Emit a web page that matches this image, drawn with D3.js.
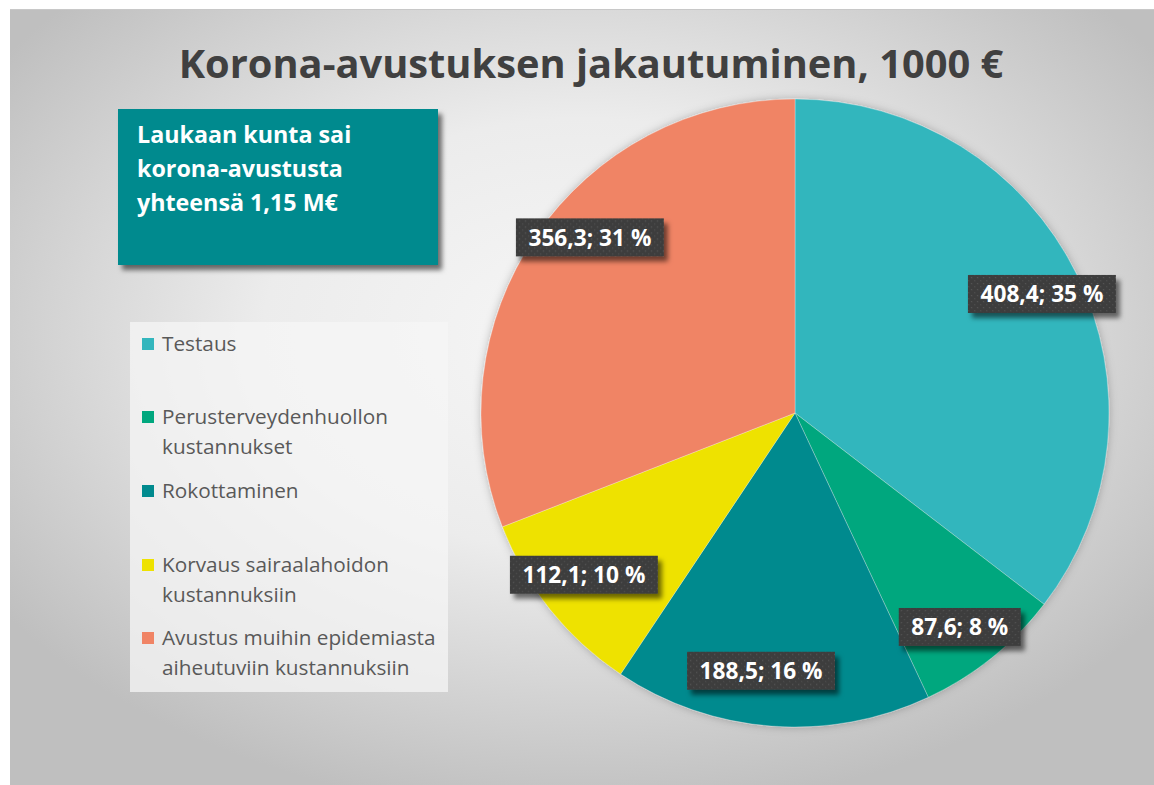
<!DOCTYPE html>
<html><head><meta charset="utf-8">
<script src="https://cdn.jsdelivr.net/npm/d3@7"></script>
<style>html,body{margin:0;padding:0;background:#fff;overflow:hidden}</style>
</head><body>
<svg id="c" width="1154" height="785"></svg>
<script>
const categories = ["Testaus", "Perusterveydenhuollon kustannukset", "Rokottaminen", "Korvaus sairaalahoidon kustannuksiin", "Avustus muihin epidemiasta aiheutuviin kustannuksiin"];
const legendLines = [["Testaus"], ["Perusterveydenhuollon", "kustannukset"], ["Rokottaminen"], ["Korvaus sairaalahoidon", "kustannuksiin"], ["Avustus muihin epidemiasta", "aiheutuviin kustannuksiin"]];
const values = [408.4, 87.6, 188.5, 112.1, 356.3];
const percents = [35, 8, 16, 10, 31];
const colors = ["#33B6BD", "#00A77E", "#008A8E", "#EEE200", "#F08465"];
const title = "Korona-avustuksen jakautuminen, 1000 €";
const noteLines = ["Laukaan kunta sai", "korona-avustusta", "yhteensä 1,15 M€"];

// label placement tweaks (layout only): angle shift in degrees, radius factor
const labelShiftDeg = [0.5, 1.2, 3.2, 1.3, 6.2];
const labelRadiusF = [0.873, 0.86, 0.828, 0.847, 0.86];

const FONT = "'Open Sans', Lato, sans-serif";
const svg = d3.select("#c");
const defs = svg.append("defs");

const rg = defs.append("radialGradient").attr("id", "bg").attr("cx", "50%").attr("cy", "42%").attr("r", "62%");
rg.append("stop").attr("offset", "0%").attr("stop-color", "#f6f6f6");
rg.append("stop").attr("offset", "45%").attr("stop-color", "#ececec");
rg.append("stop").attr("offset", "100%").attr("stop-color", "#bfbfbf");

const sh = defs.append("filter").attr("id", "sh").attr("x", "-20%").attr("y", "-20%").attr("width", "150%").attr("height", "160%");
sh.append("feDropShadow").attr("dx", 4).attr("dy", 5).attr("stdDeviation", 2.5).attr("flood-color", "#000").attr("flood-opacity", 0.55);
const psh = defs.append("filter").attr("id", "psh").attr("x", "-10%").attr("y", "-10%").attr("width", "120%").attr("height", "120%");
psh.append("feDropShadow").attr("dx", 0).attr("dy", 0).attr("stdDeviation", 4).attr("flood-color", "#000").attr("flood-opacity", 0.25);

const pat = defs.append("pattern").attr("id", "dots").attr("width", 6).attr("height", 6).attr("patternUnits", "userSpaceOnUse");
pat.append("rect").attr("width", 6).attr("height", 6).attr("fill", "#3d3d3d");
pat.append("rect").attr("x", 1).attr("y", 1).attr("width", 1.3).attr("height", 1.3).attr("fill", "#555");
pat.append("rect").attr("x", 4).attr("y", 4).attr("width", 1.3).attr("height", 1.3).attr("fill", "#4d4d4d");

svg.append("rect").attr("x", 10).attr("y", 9).attr("width", 1144).attr("height", 776).attr("fill", "url(#bg)");
svg.append("line").attr("x1", 10).attr("x2", 1154).attr("y1", 9.5).attr("y2", 9.5).attr("stroke", "#c8c8c8");

// font size that makes `str` measure `target` px wide
function fitSize(str, target, weight) {
  const tmp = svg.append("text").attr("font-family", FONT).attr("font-weight", weight).attr("font-size", 20).text(str);
  const w = tmp.node().getComputedTextLength();
  tmp.remove();
  return 20 * target / w;
}

// title
svg.append("text").attr("x", 591).attr("y", 78).attr("text-anchor", "middle")
  .attr("font-family", FONT).attr("font-weight", "bold").attr("font-size", fitSize(title, 825, "bold"))
  .attr("fill", "#404040").text(title);

// pie
const cx = 795, cy = 413, R = 314;
const pie = d3.pie().sort(null).value(d => d)(values);
const arc = d3.arc().innerRadius(0).outerRadius(R);
const g = svg.append("g").attr("transform", `translate(${cx},${cy})`);
g.append("g").attr("filter", "url(#psh)").selectAll("path").data(pie).join("path")
  .attr("d", arc).attr("fill", (d, i) => colors[i]).attr("stroke", "rgba(255,255,255,0.35)").attr("stroke-width", 0.8);

// labels
const fmt = v => d3.format(".1f")(v).replace(".", ",");
const lblSize = fitSize("408,4; 35 %", 123, "bold");
const lg = g.selectAll("g.lbl").data(pie).join("g").attr("class", "lbl")
  .attr("transform", (d, i) => {
    const a = (d.startAngle + d.endAngle) / 2 + labelShiftDeg[i] * Math.PI / 180;
    const r = R * labelRadiusF[i];
    return `translate(${r * Math.sin(a)},${-r * Math.cos(a)})`;
  });
lg.each(function (d, i) {
  const s = d3.select(this);
  const txt = `${fmt(values[i])}; ${percents[i]} %`;
  const rect = s.append("rect").attr("fill", "url(#dots)").attr("filter", "url(#sh)");
  const tx = s.append("text").attr("text-anchor", "middle").attr("dy", "0.36em")
    .attr("font-family", FONT).attr("font-weight", "bold").attr("font-size", lblSize).attr("fill", "#fff").text(txt);
  const w = tx.node().getComputedTextLength();
  rect.attr("x", -w / 2 - 12.5).attr("y", -19).attr("width", w + 25).attr("height", 38);
});

// note box
svg.append("rect").attr("x", 118).attr("y", 109).attr("width", 320).attr("height", 156)
  .attr("fill", "#008A8E").attr("filter", "url(#sh)");
const noteSize = fitSize("korona-avustusta", 206, "bold");
svg.append("g").selectAll("text").data(noteLines).join("text")
  .attr("x", 137).attr("y", (d, i) => 143 + i * 34)
  .attr("font-family", FONT).attr("font-weight", "bold").attr("font-size", noteSize).attr("fill", "#fff").text(d => d);

// legend
svg.append("rect").attr("x", 130).attr("y", 322).attr("width", 318).attr("height", 370).attr("fill", "rgba(245,245,245,0.75)");
const legSize = fitSize("Perusterveydenhuollon", 226, "normal");
const legY = [351, 424, 498, 572, 645];
const leg = svg.append("g").selectAll("g").data(categories).join("g")
  .attr("transform", (d, i) => `translate(142,${legY[i]})`);
leg.append("rect").attr("x", 0).attr("y", -13).attr("width", 12).attr("height", 12).attr("fill", (d, i) => colors[i]);
leg.append("text").attr("font-family", FONT).attr("font-size", legSize).attr("fill", "#595959")
  .selectAll("tspan").data((d, i) => legendLines[i]).join("tspan")
  .attr("x", 20).attr("dy", (d, j) => j === 0 ? 0 : 29.5).text(d => d);
</script>
</body></html>
